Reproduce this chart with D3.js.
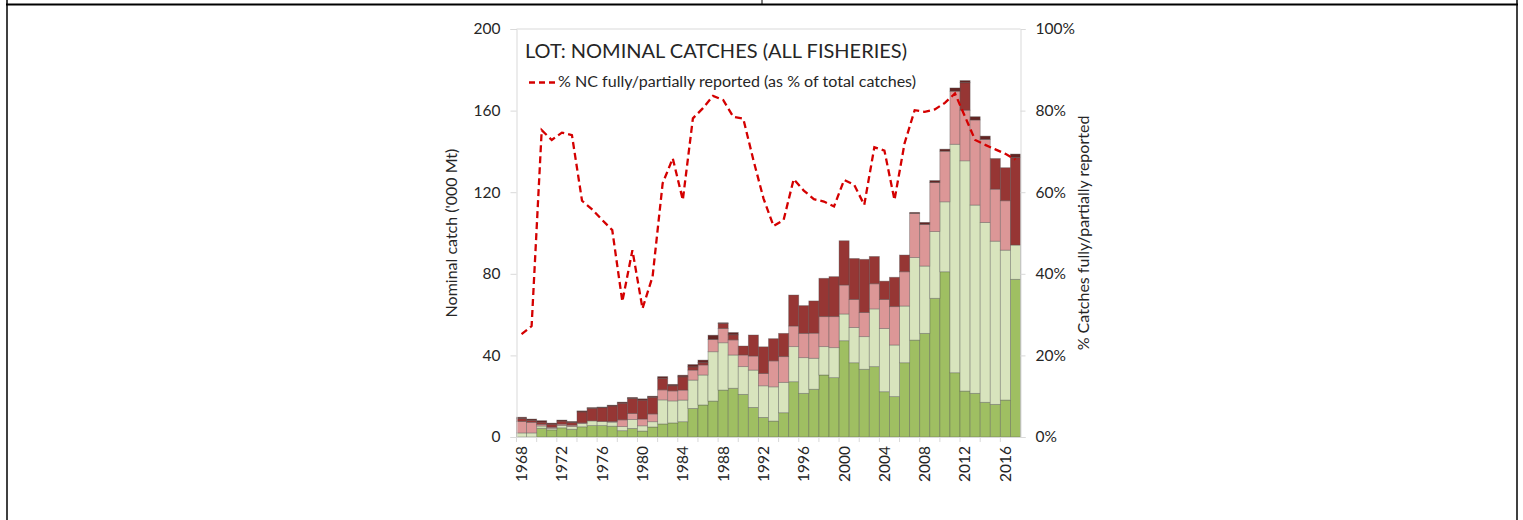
<!DOCTYPE html>
<html>
<head>
<meta charset="utf-8">
<script src="https://cdn.jsdelivr.net/npm/d3@7"></script>
<style>
  body { margin: 0; background: #fff; }
  text { font-family: Lato, "Open Sans", sans-serif; fill: #262626; }
</style>
</head>
<body>
<div id="my_dataviz"></div>
<script>
const years = d3.range(1968, 2018);

// nominal catch by reporting quality ('000 t), bottom to top
const fullyReported = [0, 0, 4.3, 3.5, 4.5, 3.8, 5, 5.6, 5.6, 5.3, 3.1, 4.2, 2.9, 4.9, 6.4, 6.9, 7.5, 14, 15.7, 17.6,
  23, 23.9, 20.9, 14.5, 9.6, 7.8, 11.9, 27.1, 21.4, 23.4, 30.4, 29.1, 47.2, 36.4, 33.2, 34.5, 22.2, 19.8, 36.4, 47.5,
  50.8, 68, 81, 31.5, 22.5, 21.4, 17, 16, 18.1, 77.3];
const partiallyReported = [2, 2, 1.1, 0.8, 1.1, 1.3, 1.6, 2.3, 2, 2, 2, 4.4, 2.6, 2.6, 11.8, 10.8, 10.6, 13.9, 14.7, 24.2,
  23.2, 16.3, 13.6, 18.3, 15.5, 16.8, 14.9, 17.2, 17.5, 15.2, 13.9, 14.7, 13.1, 17.3, 16, 28.3, 31, 25.3, 27.8, 40.5,
  33, 32.7, 34.3, 112, 112.9, 92.3, 88.2, 80, 73.5, 16.8];
const partlyEstimated = [5.6, 5.2, 0.8, 0.5, 0.7, 0.7, 0.3, 0, 0, 0.3, 3.3, 2.9, 3.3, 3.8, 4.9, 4.9, 4.9, 4.9, 4.9, 6,
  7, 7.4, 5.7, 6.9, 6, 12.7, 12.6, 10.1, 11.9, 12.3, 14.7, 15.2, 14.2, 13.7, 11.8, 12.3, 14.2, 18.8, 16.8, 21.6,
  20.4, 24, 24.8, 26, 24.8, 41.7, 40.7, 25.5, 24.2, 0];
const notReported = [1.5, 1, 1.1, 1.5, 1.5, 1.3, 5.4, 6.2, 6.8, 7.6, 8.2, 7.4, 9.3, 8.2, 5.7, 2.5, 6.5, 1.6, 1.1, 0,
  2.5, 2.5, 4.4, 10.3, 13.1, 10.9, 11.4, 15.2, 13.6, 15.8, 18.8, 19.6, 21.7, 20.1, 26.1, 13.4, 9, 14.4, 8.2, 0,
  0, 0, 0, 0, 13.5, 0, 0, 15, 16.2, 43];
const otherCatch = [0.6, 0.6, 0.7, 0.5, 0.5, 0.5, 0.5, 0.3, 0.3, 0.4, 0.5, 0.5, 0.6, 0.5, 0.8, 0.7, 0.8, 1.1, 1.3, 2.1,
  0.3, 1.1, 0, 0, 0, 0, 0, 0, 0, 0, 0, 0, 0, 0, 0, 0, 0, 0, 0, 0.5,
  1, 1, 1, 1.6, 1, 1.6, 1.6, 0, 0, 1.6];

// % of nominal catch fully/partially reported
const pctReported = [25.2, 27.2, 75.2, 72.8, 74.6, 74, 57.9, 55.8, 53.2, 50.7, 33.2, 45.8, 31.5, 39.3, 62.2, 68.3,
  58.1, 78.1, 80.6, 83.6, 82.6, 78.5, 78, 67.9, 58.5, 51.7, 53.2, 63.2, 60.4, 58.3, 57.7, 56.5, 63, 61.8, 56.9,
  71, 70.2, 58.1, 72, 80.1, 79.7, 80.3, 81.9, 84.2, 78.5, 72.8, 71.6, 70.5, 69.4, 68];

const leftTicks = [0, 40, 80, 120, 160, 200];
const rightTicks = [0, 0.2, 0.4, 0.6, 0.8, 1];
const labelYears = years.filter(y => (y - 1968) % 4 === 0);

const keys = ["fully", "partial", "estimated", "notrep", "other"];
const colors = ["#9fbf62", "#d8e4bd", "#dc9797", "#963634", "#632523"];

const width = 1523, height = 520;

const svg = d3.select("#my_dataviz")
  .append("svg")
  .attr("width", width)
  .attr("height", height);

svg.append("rect").attr("width", width).attr("height", height).attr("fill", "#fff");

// page table borders
svg.append("line").attr("x1", 6).attr("x2", 1518).attr("y1", 4.5).attr("y2", 4.5)
  .attr("stroke", "#000").attr("stroke-width", 2);
svg.append("line").attr("x1", 7).attr("x2", 7).attr("y1", 0).attr("y2", height)
  .attr("stroke", "#000").attr("stroke-width", 1.5);
svg.append("line").attr("x1", 1517).attr("x2", 1517).attr("y1", 0).attr("y2", height)
  .attr("stroke", "#000").attr("stroke-width", 1.5);
svg.append("line").attr("x1", 762).attr("x2", 762).attr("y1", 0).attr("y2", 4.5)
  .attr("stroke", "#000").attr("stroke-width", 1);

const plotLeft = 516.5, plotRight = 1020.5, plotTop = 29, plotBottom = 437;

const x = d3.scaleBand().domain(years).range([plotLeft, plotRight]).padding(0);
const y = d3.scaleLinear().domain([0, 200]).range([plotBottom, plotTop]);
const y2 = d3.scaleLinear().domain([0, 1]).range([plotBottom, plotTop]);

const table = years.map((yr, i) => ({
  year: yr,
  fully: fullyReported[i],
  partial: partiallyReported[i],
  estimated: partlyEstimated[i],
  notrep: notReported[i],
  other: otherCatch[i]
}));

const stacked = d3.stack().keys(keys)(table);

// plot area frame (top edge)
svg.append("line").attr("x1", plotLeft).attr("x2", plotRight).attr("y1", plotTop).attr("y2", plotTop)
  .attr("stroke", "#d9d9d9");

svg.append("g")
  .selectAll("g")
  .data(stacked)
  .join("g")
  .attr("fill", (d, i) => colors[i])
  .selectAll("rect")
  .data(d => d)
  .join("rect")
  .attr("x", d => x(d.data.year))
  .attr("width", x.bandwidth())
  .attr("y", d => y(d[1]))
  .attr("height", d => y(d[0]) - y(d[1]))
  .attr("stroke", "rgba(80,80,80,0.45)")
  .attr("stroke-width", 0.8);

// axes
const axisLeft = svg.append("g")
  .attr("transform", `translate(${plotLeft},0)`)
  .call(d3.axisLeft(y).tickValues(leftTicks).tickSize(6).tickPadding(10));

const axisRight = svg.append("g")
  .attr("transform", `translate(${plotRight},0)`)
  .call(d3.axisRight(y2).tickValues(rightTicks).tickFormat(d3.format(".0%")).tickSize(5).tickPadding(10));

const tickYears = years.filter(yr => (yr - 1968) % 2 === 0);
const axisBottom = svg.append("g")
  .attr("transform", `translate(0,${plotBottom})`)
  .call(d3.axisBottom(x).tickValues(labelYears).tickSize(0).tickPadding(0));

axisBottom.selectAll("text")
  .attr("transform", "rotate(-90)")
  .attr("x", -9)
  .attr("y", 0)
  .attr("dy", "0.35em")
  .style("text-anchor", "end");

axisBottom.selectAll(".minor")
  .data(tickYears)
  .join("line")
  .attr("class", "minor")
  .attr("x1", d => x(d))
  .attr("x2", d => x(d))
  .attr("y1", 0)
  .attr("y2", 5)
  .attr("stroke", "#d9d9d9");

[axisLeft, axisRight, axisBottom].forEach(g => {
  g.select(".domain").attr("stroke", "#d9d9d9");
  g.selectAll(".tick line").attr("stroke", "#d9d9d9");
  g.selectAll("text").style("font-size", "15.5px").attr("fill", "#262626")
    .style("font-family", "Lato, 'Open Sans', sans-serif");
});

// % reported line
const line = d3.line()
  .x((d, i) => x(years[i]) + x.bandwidth() / 2)
  .y(d => y2(d / 100));

svg.append("path")
  .datum(pctReported)
  .attr("fill", "none")
  .attr("stroke", "#d40000")
  .attr("stroke-width", 2.3)
  .attr("stroke-dasharray", "7,4")
  .attr("d", line);

// title and legend
svg.append("text")
  .attr("x", 525)
  .attr("y", 58)
  .attr("textLength", 382)
  .attr("lengthAdjust", "spacingAndGlyphs")
  .style("font-size", "20px")
  .text("LOT: NOMINAL CATCHES (ALL FISHERIES)");

svg.append("line")
  .attr("x1", 529).attr("x2", 555)
  .attr("y1", 82.5).attr("y2", 82.5)
  .attr("stroke", "#d40000")
  .attr("stroke-width", 2.3)
  .attr("stroke-dasharray", "6,4");

svg.append("text")
  .attr("x", 558)
  .attr("y", 87)
  .attr("textLength", 358)
  .attr("lengthAdjust", "spacingAndGlyphs")
  .style("font-size", "14.5px")
  .text("% NC fully/partially reported (as % of total catches)");

// axis titles
svg.append("text")
  .attr("transform", `translate(457,${(plotTop + plotBottom) / 2}) rotate(-90)`)
  .style("text-anchor", "middle")
  .style("font-size", "16px")
  .text("Nominal catch ('000 Mt)");

svg.append("text")
  .attr("transform", `translate(1089,${(plotTop + plotBottom) / 2}) rotate(-90)`)
  .style("text-anchor", "middle")
  .style("font-size", "16px")
  .text("% Catches fully/partially reported");
</script>
</body>
</html>
